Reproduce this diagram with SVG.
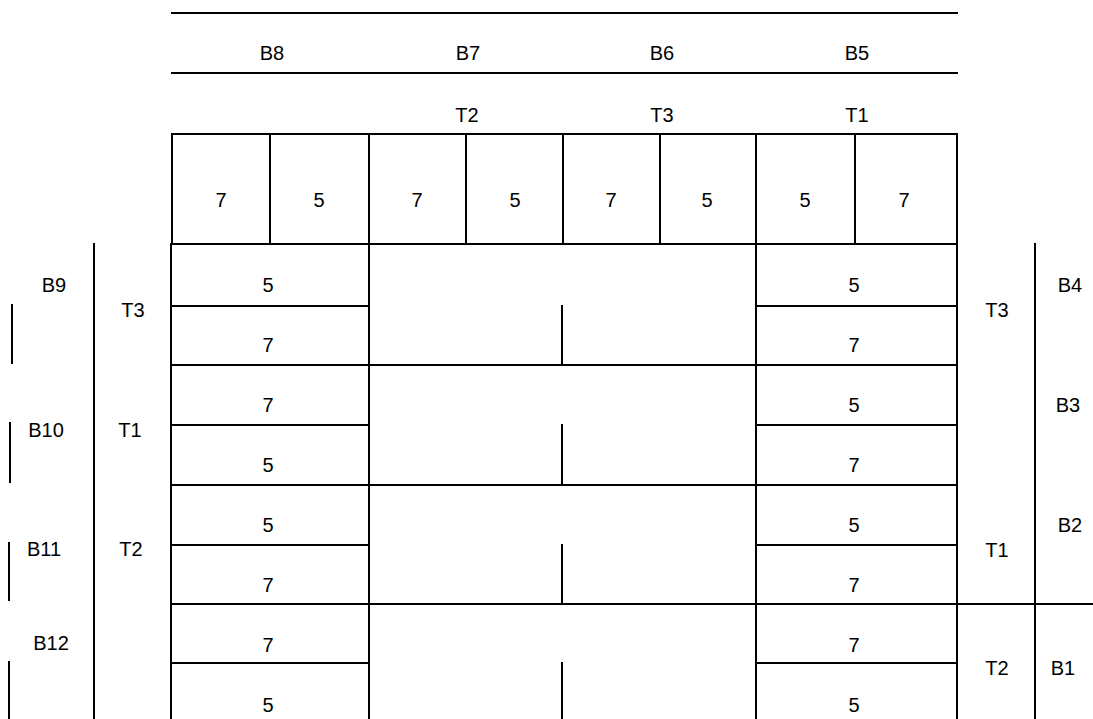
<svg xmlns="http://www.w3.org/2000/svg" width="1093" height="719" viewBox="0 0 1093 719">
<style>
line{stroke:#000;stroke-width:2;stroke-linecap:square}
text{font-family:"Liberation Sans",Arial,sans-serif;font-size:20px;fill:#000;text-anchor:middle}
</style>
<rect width="1093" height="719" style="fill:#fff;stroke:none"/>
<g id="top-bands">
<line x1="172" y1="13" x2="957" y2="13"/>
<line x1="172" y1="73" x2="957" y2="73"/>
<text x="272" y="60">B8</text>
<text x="468" y="60">B7</text>
<text x="662" y="60">B6</text>
<text x="857" y="60">B5</text>
<text x="467" y="122">T2</text>
<text x="662" y="122">T3</text>
<text x="857" y="122">T1</text>
</g>
<g id="top-grid">
<line x1="172" y1="134" x2="957" y2="134"/>
<line x1="172" y1="244" x2="957" y2="244"/>
<line x1="172" y1="134" x2="172" y2="244"/>
<line x1="270" y1="134" x2="270" y2="244"/>
<line x1="369" y1="134" x2="369" y2="244"/>
<line x1="466" y1="134" x2="466" y2="244"/>
<line x1="563" y1="134" x2="563" y2="244"/>
<line x1="660" y1="134" x2="660" y2="244"/>
<line x1="756" y1="134" x2="756" y2="244"/>
<line x1="855" y1="134" x2="855" y2="244"/>
<line x1="957" y1="134" x2="957" y2="244"/>
<text x="221" y="207">7</text>
<text x="319" y="207">5</text>
<text x="417" y="207">7</text>
<text x="515" y="207">5</text>
<text x="611" y="207">7</text>
<text x="707" y="207">5</text>
<text x="805" y="207">5</text>
<text x="904" y="207">7</text>
</g>
<g id="body-lines">
<line x1="171" y1="244" x2="171" y2="719"/>
<line x1="369" y1="244" x2="369" y2="719"/>
<line x1="756" y1="244" x2="756" y2="719"/>
<line x1="957" y1="244" x2="957" y2="719"/>
<line x1="171" y1="365" x2="957" y2="365"/>
<line x1="171" y1="485" x2="957" y2="485"/>
<line x1="171" y1="604" x2="1093" y2="604"/>
<line x1="171" y1="306" x2="369" y2="306"/>
<line x1="171" y1="425" x2="369" y2="425"/>
<line x1="171" y1="545" x2="369" y2="545"/>
<line x1="171" y1="663" x2="369" y2="663"/>
<line x1="756" y1="306" x2="957" y2="306"/>
<line x1="756" y1="425" x2="957" y2="425"/>
<line x1="756" y1="545" x2="957" y2="545"/>
<line x1="756" y1="663" x2="957" y2="663"/>
<line x1="562" y1="306" x2="562" y2="365"/>
<line x1="562" y1="425" x2="562" y2="485"/>
<line x1="562" y1="545" x2="562" y2="604"/>
<line x1="562" y1="663" x2="562" y2="719"/>
</g>
<g id="left-cells">
<text x="268" y="292">5</text>
<text x="268" y="352">7</text>
<text x="268" y="412">7</text>
<text x="268" y="472">5</text>
<text x="268" y="532">5</text>
<text x="268" y="592">7</text>
<text x="268" y="652">7</text>
<text x="268" y="712">5</text>
</g>
<g id="right-cells">
<text x="854" y="292">5</text>
<text x="854" y="352">7</text>
<text x="854" y="412">5</text>
<text x="854" y="472">7</text>
<text x="854" y="532">5</text>
<text x="854" y="592">7</text>
<text x="854" y="652">7</text>
<text x="854" y="712">5</text>
</g>
<g id="left-labels">
<line x1="94" y1="244" x2="94" y2="719"/>
<line x1="12" y1="305" x2="12" y2="363"/>
<line x1="10" y1="423" x2="10" y2="482"/>
<line x1="9" y1="543" x2="9" y2="600"/>
<line x1="9" y1="662" x2="9" y2="719"/>
<text x="54" y="292">B9</text>
<text x="133" y="317">T3</text>
<text x="46" y="437">B10</text>
<text x="130" y="437">T1</text>
<text x="44" y="556">B11</text>
<text x="131" y="556">T2</text>
<text x="51" y="650">B12</text>
</g>
<g id="right-labels">
<line x1="1035" y1="244" x2="1035" y2="719"/>
<text x="997" y="317">T3</text>
<text x="1070" y="292">B4</text>
<text x="1068" y="412">B3</text>
<text x="1070" y="532">B2</text>
<text x="997" y="557">T1</text>
<text x="997" y="675">T2</text>
<text x="1063" y="675">B1</text>
</g>
</svg>
